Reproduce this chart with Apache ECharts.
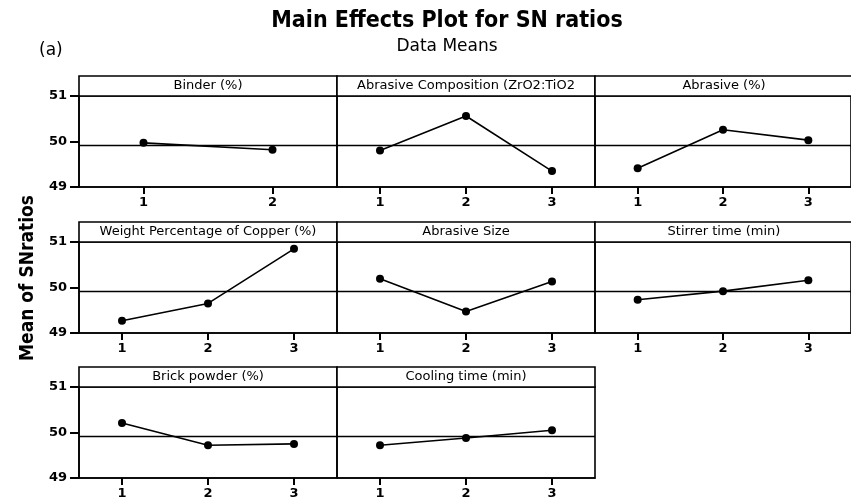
<!DOCTYPE html>
<html>
<head>
<meta charset="utf-8">
<script src="https://cdn.jsdelivr.net/npm/echarts@6/dist/echarts.min.js"></script>
<style>
  html, body { margin: 0; padding: 0; background: #fff; }
  #chart { width: 851px; height: 504px; }
</style>
</head>
<body>
<div id="chart"></div>
<script>
// panel titles (order: row by row)
const factorNames = [
  'Binder (%)', 'Abrasive Composition (ZrO2:TiO2', 'Abrasive (%)',
  'Weight Percentage of Copper (%)', 'Abrasive Size', 'Stirrer time (min)',
  'Brick powder (%)', 'Cooling time (min)'
]
const levels2 = ['1', '2']
const levels3 = ['1', '2', '3']

// mean SN ratio at each level
const binder = [49.97, 49.82]
const abrasiveComp = [49.80, 50.56, 49.35]
const abrasivePct = [49.41, 50.26, 50.03]
const copperPct = [49.27, 49.65, 50.85]
const abrasiveSize = [50.19, 49.47, 50.13]
const stirrerTime = [49.73, 49.92, 50.16]
const brickPowder = [50.21, 49.72, 49.75]
const coolingTime = [49.72, 49.88, 50.05]
const grandMean = 49.91

const panelData = [binder, abrasiveComp, abrasivePct, copperPct, abrasiveSize, stirrerTime, brickPowder, coolingTime]

const colLeft = [79, 337, 595]
const colWidth = 258
const rowTop = [96, 242, 387]
const plotHeight = 91
const headerHeight = 20
const font = 'DejaVu Sans'

const chart = echarts.init(document.getElementById('chart'))

const grids = [], xAxes = [], yAxes = [], series = [], graphics = []

panelData.forEach((vals, i) => {
  const col = i % 3
  const row = Math.floor(i / 3)
  const cats = vals.length === 2 ? levels2 : levels3
  grids.push({
    left: colLeft[col], top: rowTop[row], width: colWidth, height: plotHeight,
    show: true, borderColor: '#000', borderWidth: 1.6
  })
  xAxes.push({
    type: 'category', gridIndex: i, data: cats, boundaryGap: true,
    axisLine: { show: true, lineStyle: { color: '#000', width: 1.6 } },
    axisTick: { show: true, alignWithLabel: true, length: 7, lineStyle: { color: '#000', width: 2 } },
    axisLabel: { color: '#000', fontWeight: 'bold', fontSize: 13, fontFamily: font, margin: 9 },
    splitLine: { show: false }
  })
  yAxes.push({
    type: 'value', gridIndex: i, min: 49, max: 51, interval: 1,
    axisLine: { show: col === 0, lineStyle: { color: '#000', width: 1.6 } },
    axisTick: { show: col === 0, length: 9, lineStyle: { color: '#000', width: 2 } },
    axisLabel: { show: col === 0, color: '#000', fontWeight: 'bold', fontSize: 13, fontFamily: font, margin: 12 },
    splitLine: { show: false }
  })
  series.push({
    type: 'line', xAxisIndex: i, yAxisIndex: i, data: vals,
    symbol: 'circle', symbolSize: 8,
    itemStyle: { color: '#000' },
    lineStyle: { color: '#000', width: 1.6 },
    markLine: {
      silent: true, symbol: 'none', label: { show: false },
      lineStyle: { color: '#000', type: 'solid', width: 1.4 },
      data: [{ yAxis: grandMean }]
    }
  })
  // panel header strip
  graphics.push({
    type: 'rect',
    shape: { x: colLeft[col], y: rowTop[row] - headerHeight, width: colWidth, height: headerHeight },
    style: { fill: '#fff', stroke: '#000', lineWidth: 1.6 }
  })
  graphics.push({
    type: 'text',
    x: colLeft[col] + colWidth / 2, y: rowTop[row] - headerHeight / 2,
    style: { text: factorNames[i], font: '13px "' + font + '"', fill: '#000', align: 'center', verticalAlign: 'middle' }
  })
})

graphics.push({
  type: 'text', x: 39, y: 51,
  style: { text: '(a)', font: '17px "' + font + '"', fill: '#000', align: 'left', verticalAlign: 'middle' }
})
graphics.push({
  type: 'text', x: 28, y: 278, rotation: Math.PI / 2,
  style: { text: 'Mean of SNratios', font: 'bold 19px "DejaVu Sans Condensed"', fill: '#000', align: 'center', verticalAlign: 'middle' }
})

const options = {
  backgroundColor: '#fff',
  animation: false,
  title: [
    { text: 'Main Effects Plot for SN ratios', left: 442, top: 5, textAlign: 'center',
      textStyle: { fontSize: 23, fontWeight: 'bold', fontFamily: 'DejaVu Sans Condensed', color: '#000' } },
    { text: 'Data Means', left: 442, top: 33, textAlign: 'center',
      textStyle: { fontSize: 17, fontWeight: 'normal', fontFamily: font, color: '#000' } }
  ],
  grid: grids,
  xAxis: xAxes,
  yAxis: yAxes,
  series: series,
  graphic: graphics
}
chart.setOption(options)
</script>
</body>
</html>
